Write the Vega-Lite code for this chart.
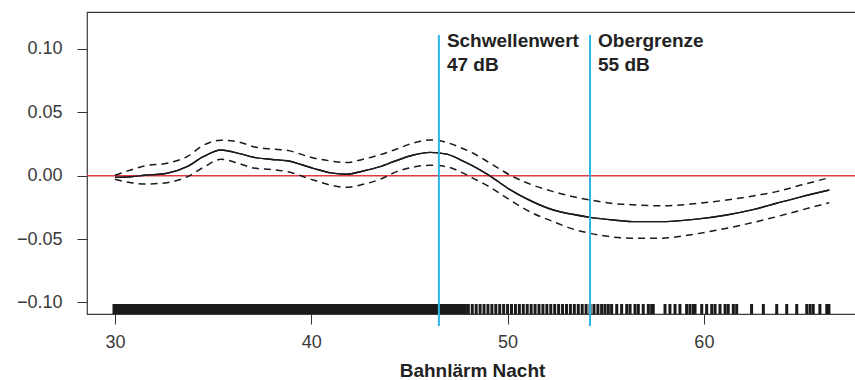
{
  "$schema": "https://vega.github.io/schema/vega-lite/v6.json",
  "autosize": "none",
  "width": 770,
  "height": 302,
  "padding": {"left": 87, "top": 12, "right": 0, "bottom": 66},
  "background": "white",
  "config": {
    "view": {"stroke": "#3a3a3a", "strokeWidth": 1.2},
    "axis": {
      "grid": false,
      "domain": false,
      "tickColor": "#333333",
      "tickSize": 10,
      "tickWidth": 1,
      "labelFont": "Liberation Sans",
      "labelFontSize": 18,
      "labelColor": "#3a3a3a",
      "titleFont": "Liberation Sans",
      "titleFontSize": 19,
      "titleFontWeight": "bold",
      "titleColor": "#222222"
    }
  },
  "datasets": {
    "curve": [
      {"x": 30.0, "fit": -0.0013, "hi": 0.0003, "lo": -0.0029},
      {"x": 30.8, "fit": -0.0008, "hi": 0.0045, "lo": -0.0055},
      {"x": 31.5, "fit": 0.0003, "hi": 0.0077, "lo": -0.0066},
      {"x": 32.65, "fit": 0.0019, "hi": 0.0098, "lo": -0.0055},
      {"x": 33.67, "fit": 0.0071, "hi": 0.0150, "lo": -0.0010},
      {"x": 34.5, "fit": 0.0150, "hi": 0.0240, "lo": 0.0065},
      {"x": 35.4, "fit": 0.0203, "hi": 0.0280, "lo": 0.0129},
      {"x": 36.4, "fit": 0.0172, "hi": 0.0262, "lo": 0.0092},
      {"x": 37.07, "fit": 0.0145, "hi": 0.0229, "lo": 0.0060},
      {"x": 38.0, "fit": 0.0128, "hi": 0.0210, "lo": 0.0048},
      {"x": 38.76, "fit": 0.0118, "hi": 0.0200, "lo": 0.0032},
      {"x": 40.1, "fit": 0.0058, "hi": 0.0140, "lo": -0.0034},
      {"x": 41.0, "fit": 0.0022, "hi": 0.0116, "lo": -0.0075},
      {"x": 41.8, "fit": 0.0011, "hi": 0.0103, "lo": -0.0092},
      {"x": 42.6, "fit": 0.0035, "hi": 0.0128, "lo": -0.0070},
      {"x": 43.5, "fit": 0.0071, "hi": 0.0165, "lo": -0.0029},
      {"x": 44.35, "fit": 0.0120, "hi": 0.0210, "lo": 0.0032},
      {"x": 45.2, "fit": 0.0163, "hi": 0.0258, "lo": 0.0068},
      {"x": 46.05, "fit": 0.0184, "hi": 0.0282, "lo": 0.0082},
      {"x": 46.9, "fit": 0.0170, "hi": 0.0262, "lo": 0.0071},
      {"x": 47.6, "fit": 0.0125, "hi": 0.0222, "lo": 0.0030},
      {"x": 48.25, "fit": 0.0075, "hi": 0.0177, "lo": -0.0021},
      {"x": 49.1, "fit": -0.0002, "hi": 0.0100, "lo": -0.0090},
      {"x": 50.12, "fit": -0.0110, "hi": 0.0005, "lo": -0.0192},
      {"x": 51.2, "fit": -0.0200, "hi": -0.0070, "lo": -0.0290},
      {"x": 52.33, "fit": -0.0271, "hi": -0.0126, "lo": -0.0363},
      {"x": 53.3, "fit": -0.0305, "hi": -0.0165, "lo": -0.0420},
      {"x": 54.2, "fit": -0.0329, "hi": -0.0192, "lo": -0.0455},
      {"x": 55.4, "fit": -0.0350, "hi": -0.0220, "lo": -0.0485},
      {"x": 56.58, "fit": -0.0363, "hi": -0.0231, "lo": -0.0494},
      {"x": 57.76, "fit": -0.0363, "hi": -0.0238, "lo": -0.0494},
      {"x": 59.5, "fit": -0.0345, "hi": -0.0222, "lo": -0.0462},
      {"x": 61.16, "fit": -0.0310, "hi": -0.0192, "lo": -0.0415},
      {"x": 62.5, "fit": -0.0268, "hi": -0.0160, "lo": -0.0370},
      {"x": 63.7, "fit": -0.0218, "hi": -0.0126, "lo": -0.0324},
      {"x": 65.0, "fit": -0.0165, "hi": -0.0072, "lo": -0.0270},
      {"x": 66.39, "fit": -0.0113, "hi": -0.0016, "lo": -0.0213}
    ],
    "limits": [
      {"name": "Schwellenwert", "db": 46.5, "label": "47 dB"},
      {"name": "Obergrenze", "db": 54.2, "label": "55 dB"}
    ],
    "zero": [{"value": 0}],
    "rugDense": [
      {"x": 30}, {"x": 30.2}, {"x": 30.4}, {"x": 30.6}, {"x": 30.8}, {"x": 31}, {"x": 31.2}, {"x": 31.4}, {"x": 31.6}, {"x": 31.8},
      {"x": 32}, {"x": 32.2}, {"x": 32.4}, {"x": 32.6}, {"x": 32.8}, {"x": 33}, {"x": 33.2}, {"x": 33.4}, {"x": 33.6}, {"x": 33.8},
      {"x": 34}, {"x": 34.2}, {"x": 34.4}, {"x": 34.6}, {"x": 34.8}, {"x": 35}, {"x": 35.2}, {"x": 35.4}, {"x": 35.6}, {"x": 35.8},
      {"x": 36}, {"x": 36.2}, {"x": 36.4}, {"x": 36.6}, {"x": 36.8}, {"x": 37}, {"x": 37.2}, {"x": 37.4}, {"x": 37.6}, {"x": 37.8},
      {"x": 38}, {"x": 38.2}, {"x": 38.4}, {"x": 38.6}, {"x": 38.8}, {"x": 39}, {"x": 39.2}, {"x": 39.4}, {"x": 39.6}, {"x": 39.8},
      {"x": 40}, {"x": 40.2}, {"x": 40.4}, {"x": 40.6}, {"x": 40.8}, {"x": 41}, {"x": 41.2}, {"x": 41.4}, {"x": 41.6}, {"x": 41.8},
      {"x": 42}, {"x": 42.2}, {"x": 42.4}, {"x": 42.6}, {"x": 42.8}, {"x": 43}, {"x": 43.2}, {"x": 43.4}, {"x": 43.6}, {"x": 43.8},
      {"x": 44}, {"x": 44.2}, {"x": 44.4}, {"x": 44.6}, {"x": 44.8}, {"x": 45}, {"x": 45.2}, {"x": 45.4}, {"x": 45.6}, {"x": 45.8},
      {"x": 46}, {"x": 46.2}, {"x": 46.4}, {"x": 46.6}, {"x": 46.8}, {"x": 47}, {"x": 47.2}, {"x": 47.4}, {"x": 47.6}, {"x": 47.8}
    ],
    "rugSparse": [
      {"x": 48}, {"x": 48.2}, {"x": 48.4}, {"x": 48.6}, {"x": 48.8}, {"x": 49}, {"x": 49.2}, {"x": 49.4}, {"x": 49.6}, {"x": 49.8},
      {"x": 50}, {"x": 50.2}, {"x": 50.4}, {"x": 50.6}, {"x": 50.8}, {"x": 51}, {"x": 51.2}, {"x": 51.4}, {"x": 51.6}, {"x": 51.8},
      {"x": 52}, {"x": 52.2}, {"x": 52.4}, {"x": 52.6}, {"x": 52.8}, {"x": 53}, {"x": 53.2}, {"x": 53.4}, {"x": 53.6}, {"x": 53.8},
      {"x": 54}, {"x": 54.2}, {"x": 54.4}, {"x": 54.6},
      {"x": 54.79}, {"x": 54.96}, {"x": 55.13}, {"x": 55.30}, {"x": 55.56}, {"x": 55.81}, {"x": 56.07}, {"x": 56.24}, {"x": 56.49}, {"x": 56.66},
      {"x": 56.91}, {"x": 57.17}, {"x": 57.34}, {"x": 57.42}, {"x": 58.02}, {"x": 58.27}, {"x": 58.53}, {"x": 58.78}, {"x": 59.12}, {"x": 59.29},
      {"x": 59.46}, {"x": 59.55}, {"x": 59.89}, {"x": 60.14}, {"x": 60.40}, {"x": 60.57}, {"x": 60.82}, {"x": 61.08}, {"x": 61.24}, {"x": 61.50},
      {"x": 61.67}, {"x": 62.43}, {"x": 63.03}, {"x": 63.71}, {"x": 64.22}, {"x": 64.73}, {"x": 65.24}, {"x": 65.41}, {"x": 65.57}, {"x": 65.91},
      {"x": 66.26}, {"x": 66.37}
    ]
  },
  "layer": [
    {
      "data": {"name": "curve"},
      "mark": {"type": "line", "color": "#1a1a1a", "strokeWidth": 1.4, "interpolate": "monotone"},
      "encoding": {
        "x": {
          "field": "x", "type": "quantitative",
          "scale": {"domain": [28.574, 67.8], "nice": false, "zero": false},
          "axis": {"values": [30, 40, 50, 60], "title": "Bahnlärm Nacht", "labelBaseline": "alphabetic", "labelPadding": 23, "titleBaseline": "alphabetic", "titleY": 62}
        },
        "y": {
          "field": "fit", "type": "quantitative",
          "scale": {"domain": [-0.1092, 0.1292], "nice": false, "zero": false},
          "axis": {"values": [-0.1, -0.05, 0, 0.05, 0.1], "format": ".2f", "title": null, "labelPadding": 15}
        }
      }
    },
    {
      "data": {"name": "zero"},
      "mark": {"type": "rule", "color": "#e63946", "strokeWidth": 1.5},
      "encoding": {"y": {"field": "value", "type": "quantitative"}}
    },
    {
      "data": {"name": "curve"},
      "mark": {"type": "line", "color": "#1a1a1a", "strokeWidth": 1.5, "strokeDash": [7, 5], "interpolate": "monotone"},
      "encoding": {
        "x": {"field": "x", "type": "quantitative"},
        "y": {"field": "hi", "type": "quantitative"}
      }
    },
    {
      "data": {"name": "curve"},
      "mark": {"type": "line", "color": "#1a1a1a", "strokeWidth": 1.5, "strokeDash": [7, 5], "interpolate": "monotone"},
      "encoding": {
        "x": {"field": "x", "type": "quantitative"},
        "y": {"field": "lo", "type": "quantitative"}
      }
    },
    {
      "data": {"name": "curve"},
      "mark": {"type": "line", "color": "#1a1a1a", "strokeWidth": 1.4, "interpolate": "monotone"},
      "encoding": {
        "x": {"field": "x", "type": "quantitative"},
        "y": {"field": "fit", "type": "quantitative"}
      }
    },
    {
      "data": {"name": "rugDense"},
      "mark": {"type": "rule", "color": "#1a1a1a", "strokeWidth": 5},
      "encoding": {
        "x": {"field": "x", "type": "quantitative"},
        "y": {"datum": -0.1092, "type": "quantitative"},
        "y2": {"datum": -0.1013}
      }
    },
    {
      "data": {"name": "rugSparse"},
      "mark": {"type": "rule", "color": "#1a1a1a", "strokeWidth": 3},
      "encoding": {
        "x": {"field": "x", "type": "quantitative"},
        "y": {"datum": -0.1092, "type": "quantitative"},
        "y2": {"datum": -0.1013}
      }
    },
    {
      "data": {"name": "limits"},
      "mark": {"type": "rule", "color": "#29b6e6", "strokeWidth": 2},
      "encoding": {
        "x": {"field": "db", "type": "quantitative"},
        "y": {"datum": 0.111, "type": "quantitative"},
        "y2": {"datum": -0.1187}
      }
    },
    {
      "data": {"name": "limits"},
      "mark": {"type": "text", "align": "left", "baseline": "alphabetic", "dx": 8, "font": "Liberation Sans", "fontSize": 19, "fontWeight": "bold", "color": "#222222"},
      "encoding": {
        "x": {"field": "db", "type": "quantitative"},
        "y": {"datum": 0.1019, "type": "quantitative"},
        "text": {"field": "name"}
      }
    },
    {
      "data": {"name": "limits"},
      "mark": {"type": "text", "align": "left", "baseline": "alphabetic", "dx": 8, "font": "Liberation Sans", "fontSize": 19, "fontWeight": "bold", "color": "#222222"},
      "encoding": {
        "x": {"field": "db", "type": "quantitative"},
        "y": {"datum": 0.0829, "type": "quantitative"},
        "text": {"field": "label"}
      }
    }
  ]
}
